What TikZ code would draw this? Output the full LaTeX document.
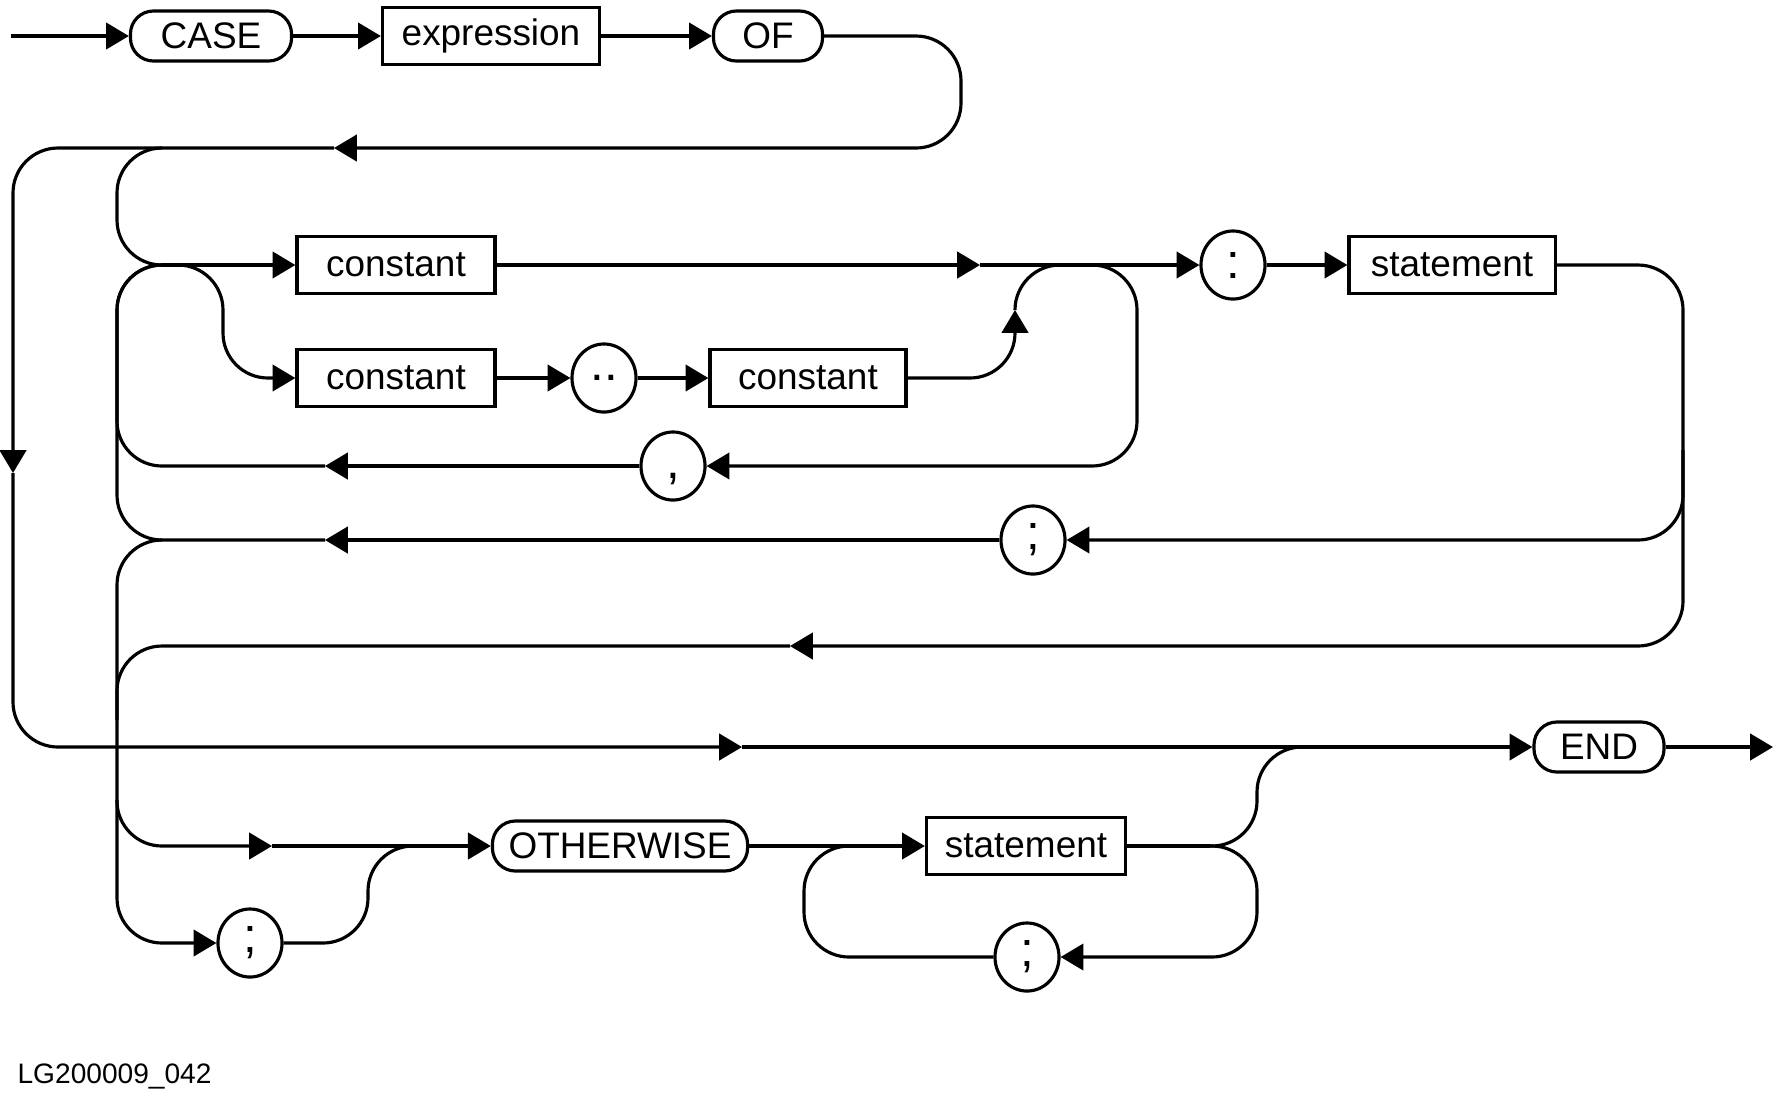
\documentclass[tikz,border=0pt]{standalone}
\usepackage{fontspec}
\setmainfont{Liberation Sans}
\usetikzlibrary{arrows.meta, shapes.geometric}
\tikzset{
    every node/.style={font=\fontsize{10.5}{12}\selectfont},
    term/.style={draw, rounded corners=2.3mm, minimum height=5mm, inner sep=0pt},
    nonterm/.style={draw, minimum height=5.7mm, inner sep=0pt},
    sym/.style={draw, ellipse, minimum width=6.4mm, minimum height=6.8mm, inner sep=0pt,
        font=\fontsize{14}{16}\selectfont}
}
\tikzset{
    track/.style={rounded corners=4.5mm}
}

\begin{document}
\begin{tikzpicture}[x=0.01cm, y=-0.01cm, line width=0.9pt,
    >={Triangle[length=6.5pt, width=7.5pt]}]
  \useasboundingbox (0,0) rectangle (1776,1093);

  \node (case) [term, minimum width=16.1mm] at (211, 36) {CASE};
  \node (expr) [nonterm, minimum width=21.7mm] at (491, 36) {expression};
  \node (of) [term, minimum width=10.9mm] at (768, 36) {OF};
  \node (const1) [nonterm, minimum width=19.8mm] at (396, 265) {constant};
  \node (const2) [nonterm, minimum width=19.8mm] at (396, 378) {constant};
  \node (range) [sym] at (604, 378) {..};
  \node (const3) [nonterm, minimum width=19.6mm] at (808, 378) {constant};
  \node (colon) [sym] at (1233, 265) {:};
  \node (stmt1) [nonterm, minimum width=20.6mm] at (1452, 265) {statement};
  \node (comma) [sym] at (673, 466) {\raisebox{-1.2mm}[0pt][0pt]{,}};
  \node (semi1) [sym] at (1033, 540) {;};
  \node (end) [term, minimum width=13mm] at (1599, 747) {END};
  \node (other) [term, minimum width=25.5mm] at (620, 846) {OTHERWISE};
  \node (stmt2) [nonterm, minimum width=19.9mm] at (1026, 846) {statement};
  \node (semi2) [sym] at (250, 943) {;};
  \node (semi3) [sym] at (1027, 957) {;};
  \node (tag) [anchor=west, inner sep=0pt, font=\fontsize{8}{9.6}\selectfont] at (16, 1076) {LG200009\_042};

  \coordinate (start) at (11, 36);
  \coordinate (exit) at (1773, 747);
  \coordinate (j1) at (162, 265);
  \coordinate (j2) at (162, 540);
  \coordinate (j3) at (1210, 846);
  \coordinate (back) at (334, 148);
  \coordinate (down) at (13, 473);
  \coordinate (skip) at (742, 747);
  \coordinate (fwd) at (980, 265);
  \coordinate (up) at (1015, 310);
  \coordinate (rcomma) at (325, 466);
  \coordinate (rsemi) at (325, 540);
  \coordinate (rstmt) at (790, 646);
  \coordinate (toother) at (272, 846);

  \draw[->] (start) -- (case); \draw[->] (case) -- (expr); \draw[->] (expr) -- (of);
  \draw[->, track] (of) -- (961, 36) -- (961, 148) -- (back);
  \draw[->, track] (back) -- (13, 148) -- (down);
  \draw[->, track] (down) -- (13, 747) -- (skip);
  \draw[->] (skip) -- (end); \draw[->] (end) -- (exit);

  \draw[track] (162, 148) -- (117, 148) -- (117, 265) -- (j1);
  \draw[->] (j1) -- (const1);
  \draw[->, track] (j1) -- (223, 265) -- (223, 378) -- (const2);
  \draw[->] (const2) -- (range); \draw[->] (range) -- (const3);
  \draw[->, track] (const3) -- (1015, 378) -- (up);
  \draw[track] (up) -- (1015, 265) -- (1060, 265);
  \draw[->] (const1) -- (fwd); \draw[->] (fwd) -- (colon); \draw[->] (colon) -- (stmt1);
  \draw[->, track] (1092, 265) -- (1137, 265) -- (1137, 466) -- (comma);
  \draw[->] (comma) -- (rcomma);
  \draw[track] (rcomma) -- (117, 466) -- (117, 265) -- (j1);

  \draw[->, track] (stmt1) -- (1683, 265) -- (1683, 646) -- (rstmt);
  \draw[->, track] (1683, 450) -- (1683, 540) -- (semi1);
  \draw[->] (semi1) -- (rsemi);
  \draw[track] (rsemi) -- (117, 540) -- (117, 265) -- (j1);
  \draw[->, track] (j2) -- (117, 540) -- (117, 846) -- (toother);
  \draw[track] (rstmt) -- (117, 646) -- (117, 720);
  \draw[->, track] (117, 800) -- (117, 943) -- (semi2);
  \draw[track] (semi2) -- (368, 943) -- (368, 846) -- (410, 846);

  \draw[->] (toother) -- (other); \draw[->] (other) -- (stmt2);
  \draw[track] (850, 846) -- (804, 846) -- (804, 957) -- (semi3);
  \draw (stmt2) -- (j3);
  \draw[track] (j3) -- (1257, 846) -- (1257, 747) -- (1302, 747);
  \draw[->, track] (j3) -- (1257, 846) -- (1257, 957) -- (semi3);
\end{tikzpicture}
\end{document}
